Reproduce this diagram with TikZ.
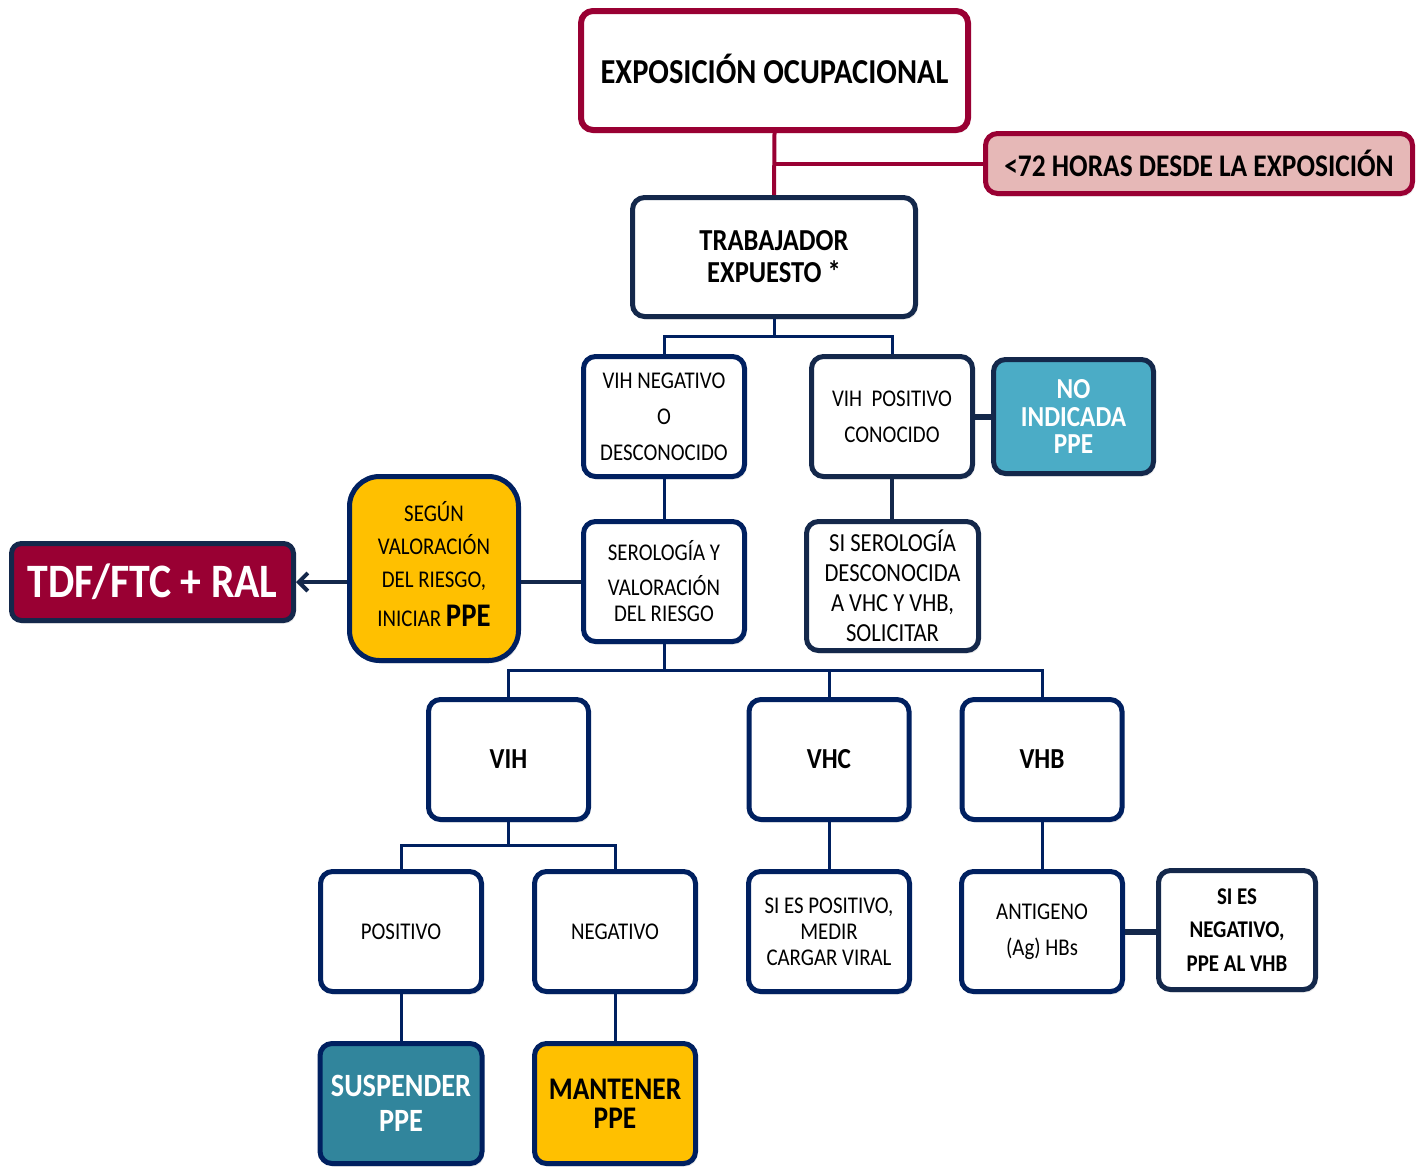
\documentclass[tikz,border=0pt]{standalone}
\usepackage{fontspec}
\setmainfont{Carlito}[FakeStretch=0.87]
\usetikzlibrary{arrows.meta,shadows}
\definecolor{crim}{HTML}{990033}
\definecolor{pinkf}{HTML}{E6B8B7}
\definecolor{navy}{HTML}{002060}
\definecolor{slate}{HTML}{14284B}
\definecolor{tealA}{HTML}{4BACC6}
\definecolor{tealB}{HTML}{31859C}
\definecolor{gold}{HTML}{FFC000}
\begin{document}
\begin{tikzpicture}[x=1pt,y=-1pt,
  box/.style={draw=navy, line width=5pt, rounded corners=12pt, fill=white,
    align=center, inner sep=0pt, text=black,
    drop shadow={shadow xshift=2pt,shadow yshift=-3pt,opacity=0.18}},
  dbox/.style={box, draw=slate},
  sz/.style 2 args={minimum width=#1pt, minimum height=#2pt},
  conn/.style={draw=navy, line width=3pt},
  crimline/.style={draw=crim, line width=4pt},
  thickconn/.style={draw=slate, line width=6pt},
  fn/.style={font=\fontsize{24}{36}\selectfont},
]
\fill[white] (0,0) rectangle (1421,1170);
\useasboundingbox (0,0) rectangle (1421,1170);

% top
\node[box, draw=crim, line width=6pt, sz={387}{119},
  font=\bfseries\fontsize{35}{40}\selectfont] (expo) at (774.5,70.5) {EXPOSICIÓN OCUPACIONAL\rule[-4pt]{0pt}{0pt}};
\node[box, draw=crim, fill=pinkf, sz={427}{60},
  font=\bfseries\fontsize{31.5}{36}\selectfont] (h72) at (1199,163.5) {<72 HORAS DESDE LA EXPOSICIÓN};
\node[dbox, sz={283}{119}, font=\bfseries\fontsize{30.5}{32}\selectfont] (trab) at (774,257) {TRABAJADOR\\EXPUESTO *};

% second level
\node[box, sz={161}{120}, fn] (vneg) at (664,416.5) {VIH NEGATIVO\\O\\DESCONOCIDO};
\node[dbox, sz={161}{120}, fn] (vpos) at (892,416.5) {VIH\ \ POSITIVO\\CONOCIDO};
\node[dbox, fill=tealA, text=white, sz={160}{114},
  font=\bfseries\fontsize{29}{27.5}\selectfont] (noind) at (1073.5,416.5) {NO\\INDICADA\\PPE};

% third level
\node[box, sz={161}{120}, font=\fontsize{24}{26}\selectfont] (sero) at (664,581.5) {SEROLOGÍA Y\\[9pt]VALORACIÓN\\DEL RIESGO};
\node[dbox, sz={172}{129}, font=\fontsize{26}{30}\selectfont] (siser) at (892.5,586) {SI SEROLOGÍA\\DESCONOCIDA\\A VHC Y VHB,\\SOLICITAR};
\node[box, fill=gold, rounded corners=30pt, sz={169}{184}, font=\fontsize{24}{33}\selectfont] (segun) at (434,568.5)
  {SEGÚN\\VALORACIÓN\\DEL RIESGO,\\[6pt]INICIAR {\bfseries\fontsize{33}{34}\selectfont PPE}\rule[-10pt]{0pt}{0pt}};
\node[dbox, fill=crim, text=white, rounded corners=10pt, sz={282}{77},
  font=\bfseries\fontsize{48}{50}\selectfont] (tdf) at (152.5,582) {TDF/FTC + RAL};

% fourth level
\node[box, sz={160}{120}, font=\bfseries\fontsize{29}{32}\selectfont] (vih) at (508.5,759.5) {VIH};
\node[box, sz={160}{120}, font=\bfseries\fontsize{29}{32}\selectfont] (vhc) at (829,759.5) {VHC};
\node[box, sz={160}{120}, font=\bfseries\fontsize{29}{32}\selectfont] (vhb) at (1042,759.5) {VHB};

% fifth level
\node[box, sz={161}{120}, fn] (pos) at (401,931.5) {POSITIVO};
\node[box, sz={161}{120}, fn] (neg) at (615,931.5) {NEGATIVO};
\node[box, sz={161}{120}, font=\fontsize{24}{26}\selectfont] (sipos) at (829,931.5) {SI ES POSITIVO,\\MEDIR\\CARGAR VIRAL};
\node[box, sz={161}{120}, fn] (anti) at (1042,931.5) {ANTIGENO\\(Ag) HBs};
\node[dbox, sz={157}{119}, font=\bfseries\fontsize{24}{33.5}\selectfont] (sineg) at (1237,930) {SI ES\\NEGATIVO,\\PPE AL VHB};

% bottom
\node[box, fill=tealB, text=white, sz={162}{120}, font=\bfseries\fontsize{32.5}{35}\selectfont] (susp) at (401,1103.5) {SUSPENDER\\PPE};
\node[box, fill=gold, sz={161}{120}, font=\bfseries\fontsize{31.5}{29}\selectfont] (mant) at (615,1103.5) {MANTENER\\PPE};

% connectors
\draw[crimline] (expo.south) -- (trab.north);
\draw[crimline] (expo.south |- h72.west) -- (h72.west);

\draw[conn] (trab.south) -- ++(0,17) -| (vneg.north);
\draw[conn] (trab.south) -- ++(0,17) -| (vpos.north);
\draw[thickconn] (vpos.east) -- (noind.west);
\draw[conn] (vneg.south) -- (sero.north);
\draw[thickconn, line width=4.5pt] (vpos.south) -- (vpos.south |- siser.north);
\draw[thickconn, line width=4pt] (sero.west) -- (sero.west -| segun.east);
\draw[thickconn, line width=4pt, -{Straight Barb[length=9pt,width=18pt,line width=4pt]}]
  (segun.west |- tdf.east) -- (tdf.east);

\draw[conn] (sero.south) -- ++(0,26) -| (vih.north);
\draw[conn] (sero.south) -- ++(0,26) -| (vhc.north);
\draw[conn] (sero.south) -- ++(0,26) -| (vhb.north);

\draw[conn] (vih.south) -- ++(0,23) -| (pos.north);
\draw[conn] (vih.south) -- ++(0,23) -| (neg.north);
\draw[conn] (vhc.south) -- (sipos.north);
\draw[conn] (vhb.south) -- (anti.north);
\draw[thickconn] (anti.east) -- (anti.east -| sineg.west);
\draw[conn] (pos.south) -- (susp.north);
\draw[conn] (neg.south) -- (mant.north);
\end{tikzpicture}
\end{document}
